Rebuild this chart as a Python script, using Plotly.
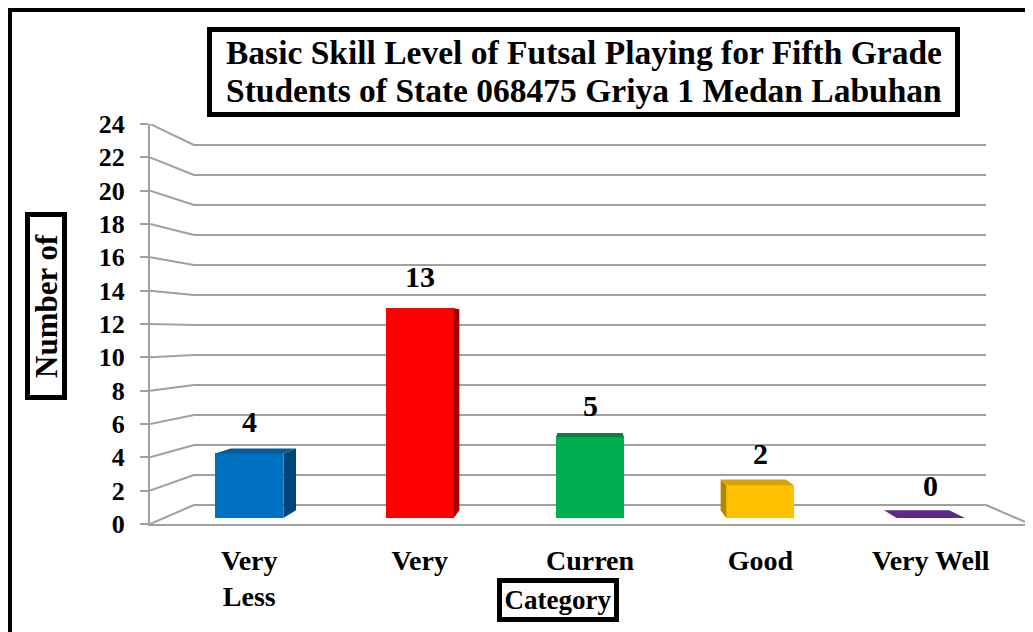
import plotly.graph_objects as go

# ---------------- data ----------------
categories = ["Very<br>Less", "Very", "Curren", "Good", "Very Well"]
values = [4, 13, 5, 2, 0]
y_ticks = list(range(0, 25, 2))
title_lines = ["Basic Skill Level of Futsal Playing for Fifth Grade",
               "Students of State 068475 Griya 1 Medan Labuhan"]
y_title = "Number of"
x_title = "Category"

# ---------------- styles ----------------
front_colors = ["#0070C0", "#FF0000", "#00B050", "#FFC000", "#7030A0"]
side_colors = ["#00467A", "#A00000", "#007A38", "#B08600", "#4E2270"]
top_colors = ["#005C9E", "#D00000", "#00853D", "#D9A200", "#5B2A8A"]
grid_color = "#A0A0A0"
FONT = "Liberation Serif, Times New Roman, serif"

# page body has an 8px margin; figure is sized so the plot sits where the reference has it
PAGE_OFF = 8
PL, PR, PT, PB = 150, 1030, 124, 524          # plot area in window pixels
W, H = 1033 - PAGE_OFF, 632 - PAGE_OFF


def px_x(px):
    return (px - PL) / (PR - PL)


def px_y(py):
    return (PB - py) / (PB - PT)


# simple perspective model (x in category units, v in value units, t depth 0=front 1=back)
T_BF, T_BB = 0.32, 0.72
BAR_W = 0.4
CX, CY = 2.0, 11.4
X_L, X_R = -0.5, 4.5


def k(t):
    return (1 - 0.1 * t) / (1 - 0.1 * T_BF)


def proj(x, v, t):
    kk = k(t)
    return CX + (x - CX) * kk, CY + (v - CY) * kk


n = len(categories)
xs = list(range(n))

fig = go.Figure()

# wall gridlines (shapes, drawn below traces)
shapes = []
for v in y_ticks:
    pts = [proj(X_L, v, 0), proj(X_L, v, 1), proj(X_R, v, 1)]
    if v == 0:
        pts.append(proj(X_R, v, 0))
    for (x0, y0), (x1, y1) in zip(pts[:-1], pts[1:]):
        shapes.append(dict(type="line", xref="x", yref="y", x0=x0, y0=y0, x1=x1, y1=y1,
                           line=dict(color=grid_color, width=2), layer="below"))

# outer frame
shapes.append(dict(type="rect", xref="paper", yref="paper",
                   x0=px_x(10), x1=px_x(1045), y0=px_y(645), y1=px_y(10),
                   line=dict(color="black", width=4), layer="below"))
# title box
shapes.append(dict(type="rect", xref="paper", yref="paper",
                   x0=px_x(209.5), x1=px_x(957.5), y0=px_y(114.5), y1=px_y(29.5),
                   line=dict(color="black", width=5), fillcolor="white", layer="below"))

# side and top faces of the 3D bars
for i, v in zip(xs, values):
    xl, xr = i - BAR_W / 2, i + BAR_W / 2
    if v < CY:
        poly = [proj(xl, v, T_BF), proj(xr, v, T_BF), proj(xr, v, T_BB), proj(xl, v, T_BB)]
        fig.add_trace(go.Scatter(x=[p[0] for p in poly] + [poly[0][0]],
                                 y=[p[1] for p in poly] + [poly[0][1]],
                                 mode="lines", fill="toself", fillcolor=top_colors[i],
                                 line=dict(width=0, color=top_colors[i]),
                                 hoverinfo="skip", showlegend=False))
    if v > 0 and i != CX:
        xs_side = xr if i < CX else xl
        poly = [proj(xs_side, 0, T_BF), proj(xs_side, v, T_BF),
                proj(xs_side, v, T_BB), proj(xs_side, 0, T_BB)]
        fig.add_trace(go.Scatter(x=[p[0] for p in poly] + [poly[0][0]],
                                 y=[p[1] for p in poly] + [poly[0][1]],
                                 mode="lines", fill="toself", fillcolor=side_colors[i],
                                 line=dict(width=0, color=side_colors[i]),
                                 hoverinfo="skip", showlegend=False))

# front faces
fig.add_trace(go.Bar(x=xs, y=values, width=BAR_W, marker=dict(color=front_colors, line=dict(width=0)),
                     showlegend=False))

annotations = []
for i, v in zip(xs, values):
    annotations.append(dict(x=i, y=v, xref="x", yref="y", text="<b>%d</b>" % v, showarrow=False,
                            yshift=32, font=dict(family=FONT, size=30, color="black")))

for line, cy in zip(title_lines, [52, 90]):
    annotations.append(dict(xref="paper", yref="paper", x=px_x(584), y=px_y(cy),
                            text="<b>" + line + "</b>", showarrow=False,
                            xanchor="center", yanchor="middle",
                            font=dict(family=FONT, size=33.5, color="black")))

annotations.append(dict(xref="paper", yref="paper", x=px_x(46), y=px_y(306),
                        text="<b>" + y_title + "</b>", showarrow=False, textangle=-90,
                        xanchor="center", yanchor="middle", width=178, height=32,
                        bordercolor="black", borderwidth=5, borderpad=0, bgcolor="white",
                        font=dict(family=FONT, size=31, color="black")))
annotations.append(dict(xref="paper", yref="paper", x=px_x(558), y=px_y(600),
                        text="<b>" + x_title + "</b>", showarrow=False,
                        xanchor="center", yanchor="middle", width=112, height=34,
                        bordercolor="black", borderwidth=5, borderpad=0, bgcolor="white",
                        font=dict(family=FONT, size=27, color="black")))

x_range = [proj(X_L, 0, 0)[0], proj(X_R, 0, 0)[0]]
y_range = [proj(0, 0, 0)[1], proj(0, 24, 0)[1]]
y_tickvals = [proj(X_L, v, 0)[1] for v in y_ticks]

fig.update_layout(
    width=W, height=H,
    margin=dict(l=PL - PAGE_OFF, r=1033 - PR, t=PT - PAGE_OFF, b=632 - PB),
    paper_bgcolor="white", plot_bgcolor="white",
    shapes=shapes, annotations=annotations,
    bargap=0,
    xaxis=dict(range=x_range, tickvals=xs, ticktext=["<b>" + c + "</b>" for c in categories],
               showgrid=False, zeroline=False, showline=True, linecolor=grid_color, linewidth=2,
               ticks="", ticklabelstandoff=10,
               tickfont=dict(family=FONT, size=28, color="black")),
    yaxis=dict(range=y_range, tickvals=y_tickvals, ticktext=["<b>%d</b>" % v for v in y_ticks],
               showgrid=False, zeroline=False, showline=True, linecolor=grid_color, linewidth=2,
               ticks="outside", ticklen=8, tickcolor=grid_color, tickwidth=2,
               ticklabelstandoff=10,
               tickfont=dict(family=FONT, size=26, color="black")),
)

fig.write_html("out.html")
